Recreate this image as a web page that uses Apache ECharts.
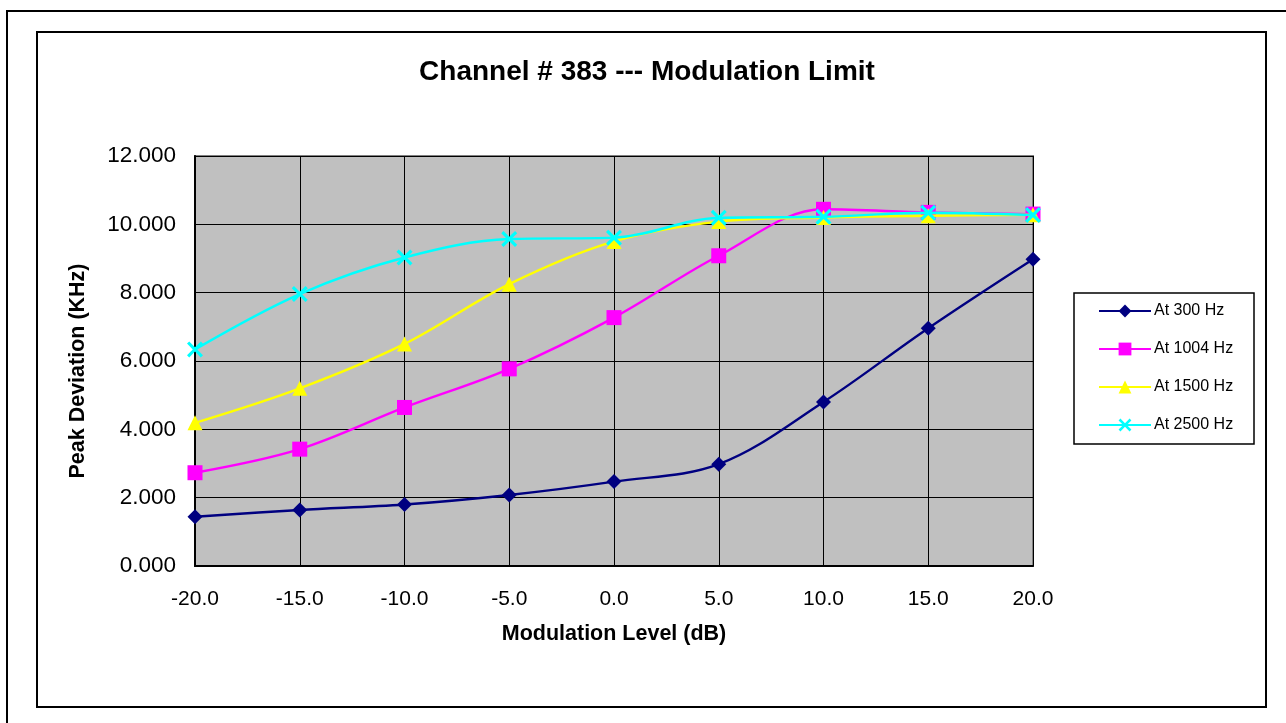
<!DOCTYPE html>
<html>
<head>
<meta charset="utf-8">
<script src="https://cdn.jsdelivr.net/npm/echarts@6/dist/echarts.min.js"></script>
<style>
html,body{margin:0;padding:0;background:#fff;}
#chart{width:1286px;height:723px;}
</style>
</head>
<body>
<div id="chart"></div>
<script>
const titleText = 'Channel # 383 --- Modulation Limit';
const xName = 'Modulation Level (dB)';
const yName = 'Peak Deviation (KHz)';
const modLevels = [-20, -15, -10, -5, 0, 5, 10, 15, 20];
const seriesNames = ['At 300 Hz', 'At 1004 Hz', 'At 1500 Hz', 'At 2500 Hz'];
const at300 = [1.44, 1.64, 1.80, 2.08, 2.47, 2.98, 4.80, 6.96, 8.98];
const at1004 = [2.73, 3.42, 4.64, 5.77, 7.27, 9.08, 10.44, 10.35, 10.30];
const at1500 = [4.19, 5.20, 6.50, 8.25, 9.50, 10.08, 10.20, 10.25, 10.28];
const at2500 = [6.34, 7.96, 9.03, 9.57, 9.61, 10.19, 10.22, 10.34, 10.27];

const colors = ['#000080', '#FF00FF', '#FFFF00', '#00FFFF'];
const symbols = ['diamond', 'rect', 'triangle',
  'path://M0,1.4L1.4,0L5,3.6L8.6,0L10,1.4L6.4,5L10,8.6L8.6,10L5,6.4L1.4,10L0,8.6L3.6,5Z'];
const symbolSizes = [15, 15, 15, 16];
const allData = [at300, at1004, at1500, at2500];

const chart = echarts.init(document.getElementById('chart'), null, {renderer: 'canvas'});
const FONT = 'Liberation Sans, Arial, sans-serif';

const series = allData.map((vals, i) => ({
  name: seriesNames[i],
  type: 'line',
  data: vals.map((v, j) => [modLevels[j], v]),
  smooth: 0.35,
  symbol: symbols[i],
  symbolSize: symbolSizes[i],
  lineStyle: {color: colors[i], width: 2.4},
  itemStyle: {color: colors[i]},
  emphasis: {disabled: true},
  animation: false,
  z: 3 + i
}));

chart.setOption({
  animation: false,
  backgroundColor: '#ffffff',
  title: {
    text: titleText,
    left: 647,
    textAlign: 'center',
    top: 58,
    padding: 0,
    textStyle: {fontFamily: FONT, fontSize: 28, fontWeight: 'bold', color: '#000'}
  },
  grid: {
    left: 195, top: 156, right: 253, bottom: 157,
    show: true, backgroundColor: '#C0C0C0', borderColor: '#808080', borderWidth: 2,
    containLabel: false
  },
  legend: {
    orient: 'vertical',
    left: 1098,
    top: 303,
    padding: 0,
    itemWidth: 52,
    itemHeight: 16,
    itemGap: 22,
    data: seriesNames,
    textStyle: {fontFamily: FONT, fontSize: 16, color: '#000', lineHeight: 16, padding: [0, 0, 0, -2]}
  },
  xAxis: {
    type: 'value',
    min: -20, max: 20, interval: 5,
    name: xName,
    nameLocation: 'middle',
    nameGap: 57,
    nameTextStyle: {fontFamily: FONT, fontSize: 21.5, fontWeight: 'bold', color: '#000'},
    axisLine: {show: true, onZero: false, lineStyle: {color: '#000', width: 2}},
    axisTick: {show: true, inside: true, length: 5, lineStyle: {color: '#000'}},
    axisLabel: {fontFamily: FONT, fontSize: 21, color: '#000', margin: 23,
      formatter: v => v.toFixed(1)},
    splitLine: {show: true, lineStyle: {color: '#000', width: 1}}
  },
  yAxis: {
    type: 'value',
    min: 0, max: 12, interval: 2,
    axisLine: {show: true, onZero: false, lineStyle: {color: '#000', width: 2}},
    axisTick: {show: true, inside: true, length: 5, lineStyle: {color: '#000'}},
    axisLabel: {fontFamily: FONT, fontSize: 22.5, color: '#000', margin: 19,
      padding: [6, 0, 0, 0],
      formatter: v => v.toFixed(3)},
    splitLine: {show: true, lineStyle: {color: '#000', width: 1}}
  },
  graphic: [
    {type: 'rect', silent: true, z: -10, shape: {x: 7, y: 11, width: 1300, height: 730},
      style: {fill: 'none', stroke: '#000', lineWidth: 2}},
    {type: 'rect', silent: true, z: -9, shape: {x: 37, y: 32, width: 1229, height: 675},
      style: {fill: 'none', stroke: '#000', lineWidth: 2}},
    {type: 'rect', silent: true, z: -8, shape: {x: 1074, y: 293, width: 180, height: 151},
      style: {fill: '#fff', stroke: '#000', lineWidth: 1.5}},
    {type: 'text', silent: true, x: 78, y: 371, rotation: Math.PI / 2,
      style: {text: yName, fontFamily: FONT, fontSize: 21.5, fontWeight: 'bold', fill: '#000',
        textAlign: 'center', textVerticalAlign: 'middle'}}
  ],
  series: series
});
</script>
</body>
</html>
